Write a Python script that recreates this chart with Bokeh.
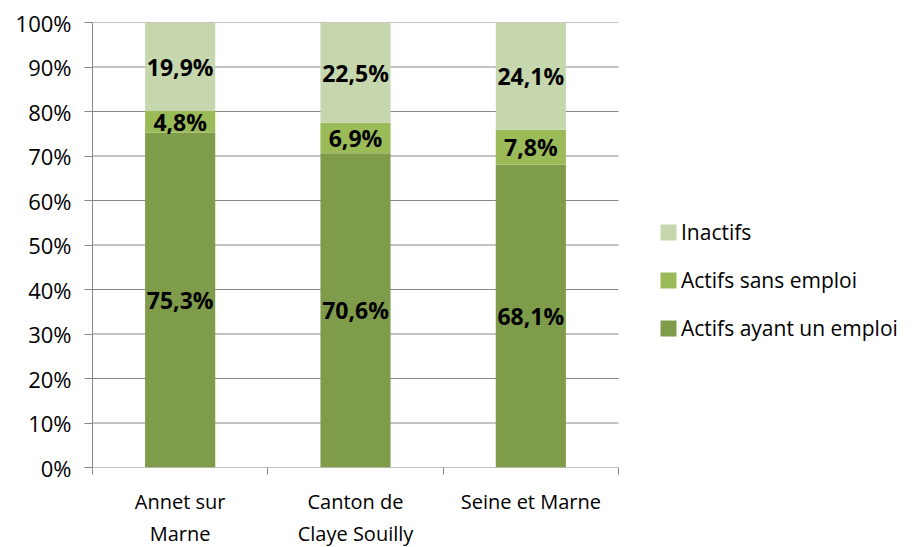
from bokeh.plotting import figure
from bokeh.models import (ColumnDataSource, FixedTicker, Legend, LegendItem,
                          NumeralTickFormatter, Range1d)
from bokeh.core.properties import value
from bokeh.embed import file_html
from bokeh.resources import INLINE

categories = ["Annet sur\nMarne", "Canton de\nClaye Souilly", "Seine et Marne"]
actifs_emploi = [75.3, 70.6, 68.1]
actifs_sans_emploi = [4.8, 6.9, 7.8]
inactifs = [19.9, 22.5, 24.1]
series_names = ["Actifs ayant un emploi", "Actifs sans emploi", "Inactifs"]
colors = ["#7F9C4A", "#9BBB59", "#C6D7AD"]
y_ticks = [i / 10 for i in range(11)]

FONT = "Open Sans"
GRAY = "#878787"
n = len(categories)
x = [i + 0.5 for i in range(n)]
series = [actifs_emploi, actifs_sans_emploi, inactifs]
data = {"x": x}
for name, vals in zip(series_names, series):
    data[name] = [v / 100 for v in vals]
src = ColumnDataSource(data)

FRAME_LEFT, FRAME_TOP = 92, 22
PLOT_W = 526          # pixel width of the category area
FRAME_W, FRAME_H = 828, 445
p = figure(width=FRAME_LEFT + FRAME_W, height=547, output_backend="svg",
           toolbar_location=None,
           x_range=Range1d(0, n * FRAME_W / PLOT_W), y_range=Range1d(0, 1),
           min_border_left=FRAME_LEFT, min_border_top=FRAME_TOP,
           min_border_right=0, min_border_bottom=80)
p.frame_width = FRAME_W
p.frame_height = FRAME_H
p.outline_line_color = None
p.background_fill_color = "white"

# horizontal gridlines limited to the category area
grid_y = y_ticks[1:]
p.segment(x0=[0] * len(grid_y), x1=[n] * len(grid_y), y0=grid_y, y1=grid_y,
          line_color=GRAY, line_width=1)
# x axis baseline
p.segment(x0=[0], x1=[n], y0=[0], y1=[0], line_color=GRAY, line_width=1)

renderers = p.vbar_stack(series_names, x="x", width=0.4, color=colors,
                         line_color=None, source=src)

# data labels
lx, ly, lt = [], [], []
for i in range(n):
    base = 0.0
    for vals in series:
        v = vals[i] / 100
        lx.append(x[i])
        ly.append(base + v / 2)
        lt.append(f"{vals[i]:.1f}%".replace(".", ","))
        base += v
p.text(x=lx, y=ly, text=lt, text_align="center", text_baseline="middle",
       text_font=value(FONT), text_font_style="bold", text_font_size="23px",
       text_color="black")

# y axis
yax = p.yaxis[0]
yax.ticker = FixedTicker(ticks=y_ticks, minor_ticks=[])
yax.formatter = NumeralTickFormatter(format="0%")
yax.axis_line_color = GRAY
yax.major_tick_line_color = GRAY
yax.major_tick_out = 8
yax.major_tick_in = 0
yax.minor_tick_line_color = None
yax.major_label_text_font = FONT
yax.major_label_text_font_size = "22px"
yax.major_label_text_color = "black"
yax.major_label_standoff = 13

# x axis
xax = p.xaxis[0]
xax.ticker = FixedTicker(ticks=x, minor_ticks=list(range(n + 1)))
xax.major_label_overrides = {xv: c for xv, c in zip(x, categories)}
xax.axis_line_color = None
xax.major_tick_line_color = None
xax.minor_tick_line_color = GRAY
xax.minor_tick_out = 7
xax.minor_tick_in = 0
xax.major_label_text_font = FONT
xax.major_label_text_font_size = "20px"
xax.major_label_text_color = "black"
xax.major_label_standoff = 13

p.xgrid.grid_line_color = None
p.ygrid.grid_line_color = None

items = [LegendItem(label=series_names[i], renderers=[renderers[i]]) for i in [2, 1, 0]]
legend = Legend(items=items, location=(566, 125), orientation="vertical",
                glyph_width=20, glyph_height=20, label_height=20,
                spacing=20, label_standoff=3, padding=0, margin=0,
                border_line_color=None, background_fill_alpha=0,
                label_text_font=FONT, label_text_font_size="21px",
                label_text_color="black")
p.add_layout(legend)

open("out.html", "w").write(file_html(p, INLINE))
